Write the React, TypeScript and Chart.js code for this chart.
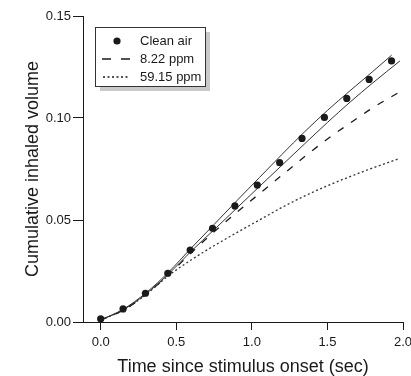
import React, { useEffect, useRef } from "react";
import { Chart, registerables } from "chart.js";

Chart.register(...registerables);

// Clean air measured points
const cleanAirTime = [0.0, 0.148, 0.296, 0.444, 0.592, 0.74, 0.888, 1.036, 1.184, 1.332, 1.48, 1.628, 1.776, 1.924];
const cleanAirVolume = [0.0015, 0.0064, 0.0141, 0.0239, 0.0353, 0.0459, 0.0569, 0.0671, 0.0781, 0.09, 0.1003, 0.1096, 0.1189, 0.128];

// Clean air fitted bounds (solid lines)
const upperTime = [0, 0.15, 0.3, 0.45, 0.6, 0.75, 0.9, 1.05, 1.2, 1.35, 1.5, 1.65, 1.8, 1.925];
const upperVolume = [0.001, 0.0063, 0.0143, 0.0245, 0.0363, 0.0478, 0.0594, 0.0708, 0.0822, 0.0933, 0.1037, 0.1134, 0.1228, 0.1308];
const lowerTime = [0, 0.15, 0.3, 0.45, 0.6, 0.75, 0.9, 1.05, 1.2, 1.35, 1.5, 1.65, 1.8, 1.98];
const lowerVolume = [0.001, 0.006, 0.0138, 0.0236, 0.0348, 0.0452, 0.0558, 0.0664, 0.0769, 0.0874, 0.0978, 0.1078, 0.1172, 0.128];

// 8.22 ppm (dashed) and 59.15 ppm (dotted)
const ppmTime = [0, 0.15, 0.3, 0.45, 0.6, 0.75, 0.9, 1.05, 1.2, 1.35, 1.5, 1.65, 1.8, 1.98];
const ppm822Volume = [0.001, 0.0058, 0.0136, 0.0233, 0.034, 0.0442, 0.0537, 0.0629, 0.072, 0.0811, 0.0897, 0.0975, 0.105, 0.1129];
const ppm5915Volume = [0.001, 0.0058, 0.0135, 0.0228, 0.0305, 0.0374, 0.0438, 0.05, 0.0562, 0.0618, 0.0668, 0.0713, 0.0755, 0.0802];

const xTicks = [0, 0.5, 1.0, 1.5, 2.0];
const yTicks = [0, 0.05, 0.1, 0.15];

const legendLabels = ["Clean air", "8.22 ppm", "59.15 ppm"];

const FONT = "'Liberation Sans', Arial, sans-serif";
const INK = "#1a1a1a";

const zip = (xs: number[], ys: number[]) => xs.map((x, i) => ({ x, y: ys[i] }));

const legendPlugin = {
  id: "boxLegend",
  afterDraw(chart: any) {
    const { ctx, chartArea } = chart;
    const left = chartArea.left + 12;
    const top = chartArea.top + 11;
    const w = 110;
    const h = 59;
    ctx.save();
    ctx.fillStyle = "#c9c9c9";
    ctx.fillRect(left + 5, top + 5, w, h);
    ctx.fillStyle = "#ffffff";
    ctx.fillRect(left, top, w, h);
    ctx.strokeStyle = "#333";
    ctx.lineWidth = 1;
    ctx.strokeRect(left + 0.5, top + 0.5, w, h);

    const rowY = [top + 14, top + 32, top + 50];
    const symX0 = left + 7;
    const symX1 = left + 35;
    const textX = left + 45;

    // dot
    ctx.fillStyle = INK;
    ctx.beginPath();
    ctx.arc((symX0 + symX1) / 2 + 1, rowY[0], 3.6, 0, Math.PI * 2);
    ctx.fill();
    // dashed
    ctx.strokeStyle = INK;
    ctx.lineWidth = 1.3;
    ctx.setLineDash([9, 10]);
    ctx.beginPath();
    ctx.moveTo(symX0, rowY[1]);
    ctx.lineTo(symX1, rowY[1]);
    ctx.stroke();
    // dotted
    ctx.lineWidth = 1.3;
    ctx.setLineDash([2, 2.5]);
    ctx.beginPath();
    ctx.moveTo(symX0 + 1, rowY[2]);
    ctx.lineTo(symX1, rowY[2]);
    ctx.stroke();
    ctx.setLineDash([]);

    ctx.fillStyle = INK;
    ctx.font = `13px ${FONT}`;
    ctx.textAlign = "left";
    ctx.textBaseline = "middle";
    legendLabels.forEach((t, i) => ctx.fillText(t, textX, rowY[i]));
    ctx.restore();
  },
};

export default function App() {
  const ref = useRef<HTMLCanvasElement | null>(null);

  useEffect(() => {
    if (!ref.current) return;
    const chart = new Chart(ref.current, {
      type: "scatter",
      data: {
        datasets: [
          {
            label: "Clean air",
            data: zip(cleanAirTime, cleanAirVolume),
            showLine: false,
            pointRadius: 3.6,
            pointBackgroundColor: INK,
            pointBorderColor: INK,
            pointBorderWidth: 0,
          },
          {
            label: "Clean air upper",
            data: zip(upperTime, upperVolume),
            showLine: true,
            pointRadius: 0,
            borderColor: "#333",
            borderWidth: 1,
            cubicInterpolationMode: "monotone",
          },
          {
            label: "Clean air lower",
            data: zip(lowerTime, lowerVolume),
            showLine: true,
            pointRadius: 0,
            borderColor: "#333",
            borderWidth: 1,
            cubicInterpolationMode: "monotone",
          },
          {
            label: "8.22 ppm",
            data: zip(ppmTime, ppm822Volume),
            showLine: true,
            pointRadius: 0,
            borderColor: INK,
            borderWidth: 1.3,
            borderDash: [7, 9],
            cubicInterpolationMode: "monotone",
          },
          {
            label: "59.15 ppm",
            data: zip(ppmTime, ppm5915Volume),
            showLine: true,
            pointRadius: 0,
            borderColor: "#333",
            borderWidth: 1.3,
            borderDash: [2, 2.5],
            cubicInterpolationMode: "monotone",
          },
        ],
      },
      options: {
        responsive: false,
        animation: false,
        layout: { padding: { top: 16, right: 0, left: 0, bottom: 0 } },
        plugins: {
          legend: { display: false },
          tooltip: { enabled: false },
        },
        scales: {
          x: {
            type: "linear",
            min: -0.117,
            max: 2.0,
            afterBuildTicks: (s: any) => {
              s.ticks = xTicks.map((v) => ({ value: v }));
            },
            afterFit: (s: any) => {
              s.height = 54;
              s.paddingRight = 8;
              s.paddingLeft = 0;
            },
            ticks: {
              color: INK,
              font: { family: FONT, size: 13 },
              padding: 5,
              callback: (v: any) => Number(v).toFixed(1),
            },
            grid: {
              display: true,
              drawOnChartArea: false,
              drawTicks: true,
              tickLength: 8,
              color: INK,
            },
            border: { display: true, color: INK, width: 1 },
            title: {
              display: true,
              text: "Time since stimulus onset (sec)",
              color: INK,
              font: { family: FONT, size: 18 },
              padding: { top: 0, bottom: -2 },
            },
          },
          y: {
            type: "linear",
            min: 0,
            max: 0.15,
            afterBuildTicks: (s: any) => {
              s.ticks = yTicks.map((v) => ({ value: v }));
            },
            afterFit: (s: any) => {
              s.width = 83;
              s.paddingTop = 0;
              s.paddingBottom = 0;
            },
            ticks: {
              color: INK,
              font: { family: FONT, size: 13 },
              padding: 2,
              callback: (v: any) => Number(v).toFixed(2),
            },
            grid: {
              display: true,
              drawOnChartArea: false,
              drawTicks: true,
              tickLength: 10,
              color: INK,
            },
            border: { display: true, color: INK, width: 1 },
            title: {
              display: true,
              text: "Cumulative inhaled volume",
              color: INK,
              font: { family: FONT, size: 18 },
              padding: { top: 22, bottom: 0 },
            },
          },
        },
      },
      plugins: [legendPlugin],
    } as any);
    return () => chart.destroy();
  }, []);

  return (
    <div style={{ position: "absolute", left: 0, top: 0, width: 411, height: 376, background: "#fff" }}>
      <canvas ref={ref} width={411} height={376} />
    </div>
  );
}
